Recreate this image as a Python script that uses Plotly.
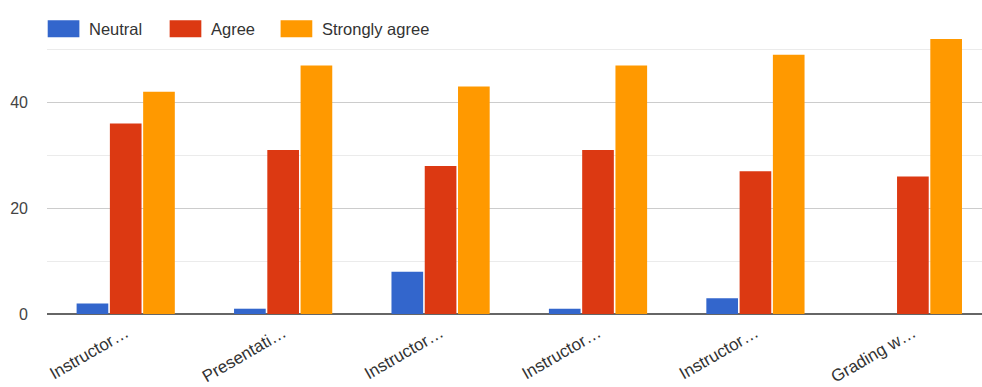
import plotly.graph_objects as go

categories = ["Instructor…", "Presentati…", "Instructor…", "Instructor…", "Instructor…", "Grading w…"]
series_names = ["Neutral", "Agree", "Strongly agree"]
neutral = [2, 1, 8, 1, 3, 0]
agree = [36, 31, 28, 31, 27, 26]
strongly_agree = [42, 47, 43, 47, 49, 52]
colors = ["#3366CC", "#DC3912", "#FF9900"]
y_ticks = [0, 20, 40]

W, H = 982, 387
L, R, T, B = 46.6, 0, 0, 73
PW, PH = W - L - R, H - T - B
FONT = "Arial, Liberation Sans, sans-serif"

fig = go.Figure()
x_idx = list(range(len(categories)))
for name, vals, col in zip(series_names, [neutral, agree, strongly_agree], colors):
    fig.add_trace(go.Bar(
        x=x_idx, y=vals, name=name,
        marker=dict(color=col, line=dict(width=0)),
        showlegend=False,
    ))

# custom legend (swatches + text) in pixel positions converted to paper coords
def px_x(p):
    return (p - L) / PW

def px_y(p):
    return 1 - (p - T) / PH

legend_swatch_left = [47.3, 169.3, 280.3]
shapes = []
annotations = []
for name, col, sx in zip(series_names, colors, legend_swatch_left):
    shapes.append(dict(type="rect", xref="paper", yref="paper",
                       x0=px_x(sx), x1=px_x(sx + 31.7), y0=px_y(37.3), y1=px_y(20.3),
                       fillcolor=col, line=dict(width=0), layer="above"))
    annotations.append(dict(text=name, xref="paper", yref="paper",
                            x=px_x(sx + 39), y=px_y(29), xanchor="left", yanchor="middle",
                            showarrow=False, font=dict(family=FONT, size=16.5, color="#333333")))

cat_px = 157.5
fig.update_layout(
    width=W, height=H,
    margin=dict(l=L, r=R, t=T, b=B, pad=0),
    paper_bgcolor="white", plot_bgcolor="white",
    barmode="group", bargap=0.366, bargroupgap=0.048,
    font=dict(family=FONT, size=16, color="#333333"),
    shapes=shapes, annotations=annotations,
    xaxis=dict(
        tickmode="array", tickvals=x_idx, ticktext=categories,
        range=[-0.5, -0.5 + PW / cat_px],
        tickangle=-30, showgrid=False, zeroline=False, showline=False,
        ticks="", automargin=False, ticklabelstandoff=5,
        tickfont=dict(family=FONT, size=17, color="#333333"),
    ),
    yaxis=dict(
        range=[0, 59.36], tickmode="array", tickvals=y_ticks,
        showgrid=True, gridcolor="#cccccc", gridwidth=1,
        minor=dict(dtick=10, tick0=0, showgrid=True, gridcolor="#ebebeb", gridwidth=1),
        zeroline=True, zerolinecolor="#666666", zerolinewidth=2,
        showline=False, ticks="", automargin=False, ticklabelstandoff=18,
        tickfont=dict(family=FONT, size=16, color="#444444"),
    ),
)

fig.write_html("out.html")
